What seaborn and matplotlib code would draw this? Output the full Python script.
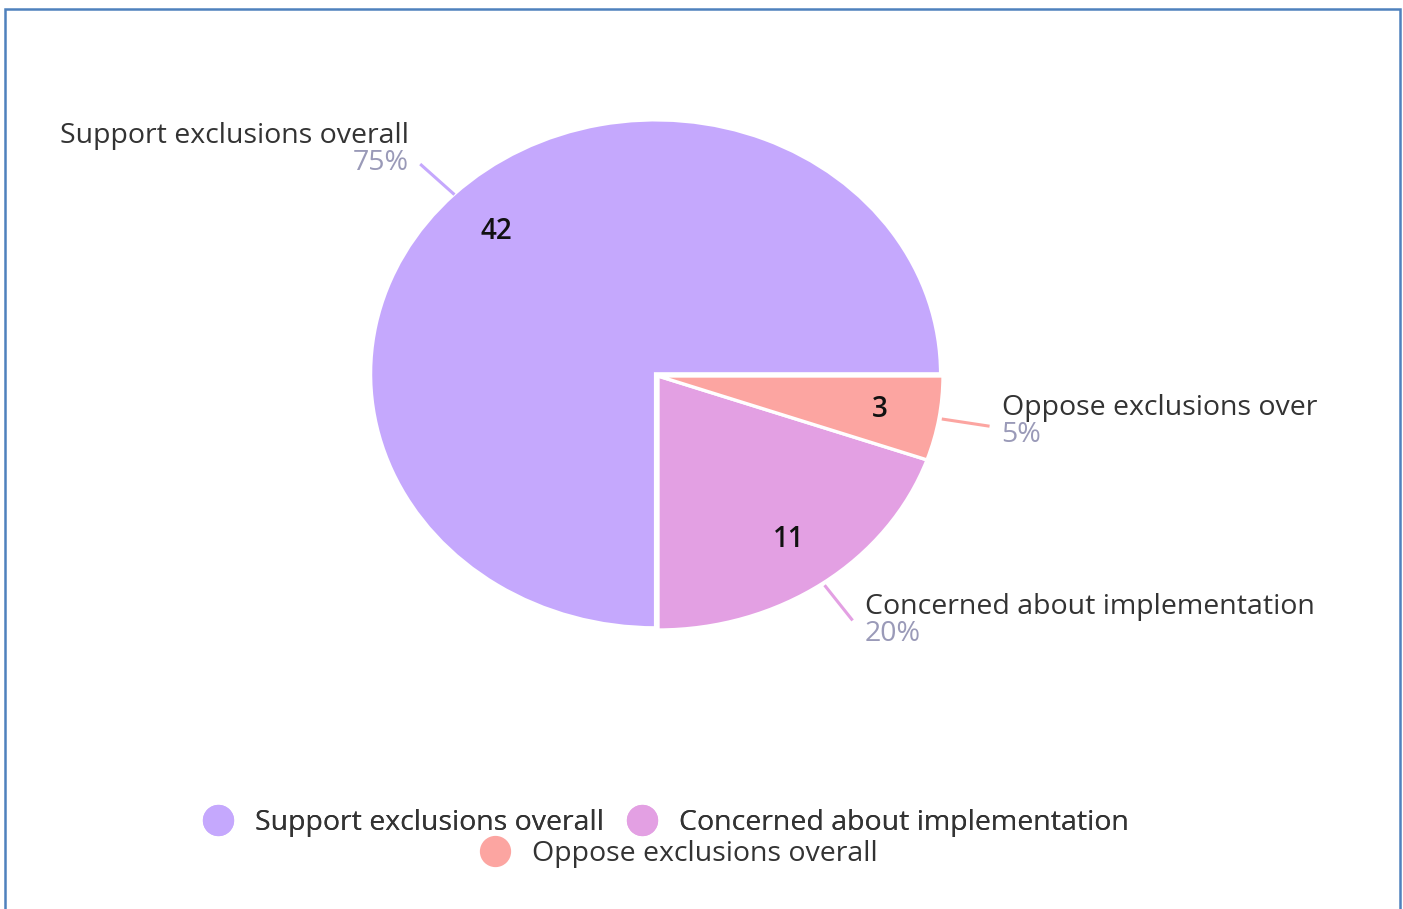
import numpy as np
import matplotlib
matplotlib.use("Agg")
import matplotlib.pyplot as plt
from matplotlib.lines import Line2D
from matplotlib.patches import Rectangle
import seaborn as sns

# ---- data ----
categories = ["Support exclusions overall", "Concerned about implementation", "Oppose exclusions overall"]
outer_names = ["Support exclusions overall", "Concerned about implementation", "Oppose exclusions over"]
counts = [42, 11, 3]
colors = ["#c5a8fd", "#e3a0e3", "#fca5a1"]

sns.set_theme(style="white")
plt.rcParams['font.family'] = ['Open Sans', 'DejaVu Sans']

W, H = 1403, 909
fig = plt.figure(figsize=(W / 100, H / 100), dpi=100)
fig.patch.set_facecolor("white")

# pie geometry in pixels (ellipse)
cx, cy, rx, ry = 658, 376, 285, 254
ax = fig.add_axes([0, 0, 1, 1])

total = sum(counts)
wedges, _, autotexts = ax.pie(
    counts, colors=colors, startangle=0, counterclock=True,
    explode=[0.012, 0, 0],
    autopct=lambda p: f"{int(round(p * total / 100))}", pctdistance=0.79,
    wedgeprops=dict(edgecolor="white", linewidth=2.4),
    textprops=dict(fontsize=20, color="#111111", fontweight="semibold"),
    radius=1.0, frame=False,
)
ax.set_xlim(-cx / rx, (W - cx) / rx)
ax.set_ylim(-(H - cy) / ry, cy / ry)
ax.set_aspect("auto")
ax.axis("off")

FS = 20.5
# outer labels with leader lines
label_dy = [-15, 0, -5]  # pixel vertical adjustment of label block
for w, name, c, dy in zip(wedges, outer_names, counts, label_dy):
    ang = np.deg2rad((w.theta1 + w.theta2) / 2)
    ca, sa = np.cos(ang), np.sin(ang)
    x0, y0 = 1.01 * ca, 1.01 * sa
    x1, y1 = 1.18 * ca, 1.18 * sa
    ax.plot([x0, x1], [y0, y1], color=w.get_facecolor(), lw=2.2, solid_capstyle="butt")
    right = ca >= 0
    xt = x1 + (12 if right else -11) / rx
    ha = "left" if right else "right"
    yc = y1 - dy / ry
    ax.text(xt, yc + 13.5 / ry, name, ha=ha, va="center", fontsize=FS, color="#333333")
    ax.text(xt, yc - 13.5 / ry, f"{round(100 * c / total)}%", ha=ha, va="center",
            fontsize=FS, color="#9a9ab8")

# legend: two rows centred
handles = [Line2D([0], [0], marker="o", linestyle="", markersize=21.5,
                  markerfacecolor=col, markeredgecolor=col) for col in colors]
leg1 = fig.legend(handles[:2], categories[:2], loc="center", ncol=2,
                  bbox_to_anchor=(659 / W, 1 - 823 / H), frameon=False,
                  fontsize=FS, handletextpad=0.3, columnspacing=0.35,
                  labelcolor="#333333")
fig.add_artist(leg1)
leg2 = fig.legend(handles[2:], categories[2:], loc="center", ncol=1,
                  bbox_to_anchor=(672 / W, 1 - 854 / H), frameon=False,
                  fontsize=FS, handletextpad=0.3, labelcolor="#333333")

# border of chart container
fig.add_artist(Rectangle((5 / W, -0.05), (1400 - 5) / W, 1.05 - 9 / H,
                         transform=fig.transFigure, fill=False,
                         edgecolor="#4f81bd", linewidth=1.8))

fig.savefig("out.png", dpi=100, facecolor="white")
